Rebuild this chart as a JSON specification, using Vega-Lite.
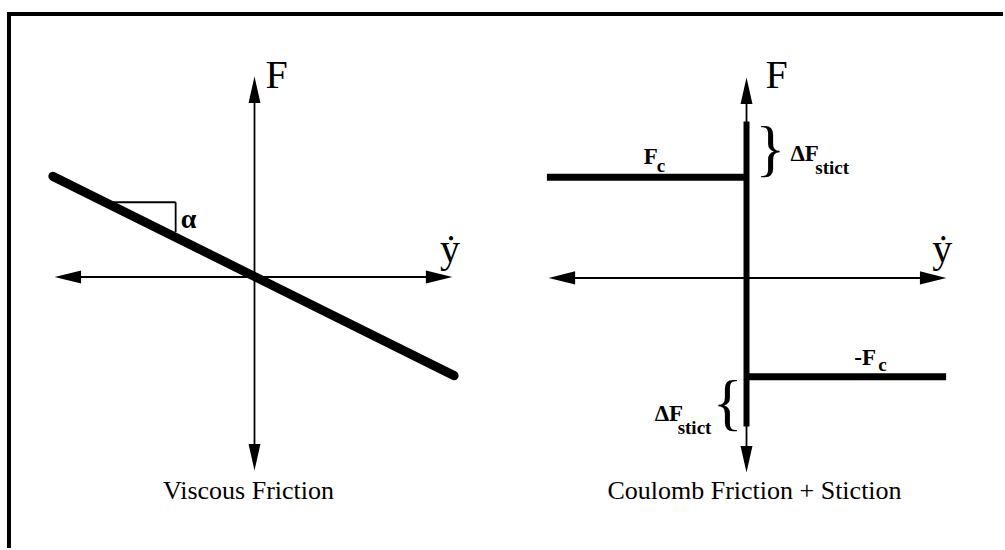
{
  "$schema": "https://vega.github.io/schema/vega-lite/v6.json",
  "width": 1005,
  "height": 550,
  "autosize": {"type": "fit", "contains": "padding"},
  "padding": 0,
  "background": "white",
  "config": {"view": {"stroke": null}, "text": {"font": "Liberation Serif", "color": "black"}},
  "datasets": {
    "segments": [
      {"role": "frame", "x": 7, "y": 14, "x2": 1005, "y2": 14},
      {"role": "frame", "x": 9, "y": 12, "x2": 9, "y2": 550},
      {"role": "axis", "x": 255, "y": 85, "x2": 255, "y2": 465},
      {"role": "axis", "x": 62, "y": 278, "x2": 446, "y2": 278},
      {"role": "axis", "x": 748, "y": 85, "x2": 748, "y2": 467},
      {"role": "axis", "x": 557, "y": 279, "x2": 941, "y2": 279},
      {"role": "guide", "x": 113, "y": 203, "x2": 176, "y2": 203},
      {"role": "guide", "x": 176, "y": 203, "x2": 176, "y2": 233},
      {"role": "slope", "x": 53, "y": 177, "x2": 455, "y2": 377},
      {"role": "stiction", "x": 748, "y": 122, "x2": 748, "y2": 428},
      {"role": "coulomb", "x": 548, "y": 178, "x2": 748, "y2": 178},
      {"role": "coulomb", "x": 748, "y": 378, "x2": 948, "y2": 378}
    ],
    "arrows": [
      {"x": 255, "y": 90, "dir": "up"},
      {"x": 255, "y": 459, "dir": "down"},
      {"x": 68, "y": 278, "dir": "left"},
      {"x": 440, "y": 278, "dir": "right"},
      {"x": 748, "y": 91, "dir": "up"},
      {"x": 748, "y": 461, "dir": "down"},
      {"x": 563, "y": 279, "dir": "left"},
      {"x": 935, "y": 279, "dir": "right"}
    ],
    "labels": [
      {"role": "axisname", "x": 266, "y": 88, "text": "F"},
      {"role": "axisname", "x": 767, "y": 88, "text": "F"},
      {"role": "axisname", "x": 441, "y": 263, "text": "ẏ"},
      {"role": "axisname", "x": 934, "y": 263, "text": "ẏ"},
      {"role": "caption", "x": 249, "y": 501, "text": "Viscous Friction"},
      {"role": "caption", "x": 756, "y": 501, "text": "Coulomb Friction + Stiction"},
      {"role": "alpha", "x": 181, "y": 229, "text": "α"},
      {"role": "symbol", "x": 645, "y": 165, "text": "F"},
      {"role": "symbol", "x": 856, "y": 366, "text": "-F"},
      {"role": "symbol", "x": 792, "y": 162, "text": "ΔF"},
      {"role": "symbol", "x": 656, "y": 423, "text": "ΔF"},
      {"role": "sub", "x": 658, "y": 173, "text": "c"},
      {"role": "sub", "x": 880, "y": 372, "text": "c"},
      {"role": "sub", "x": 817, "y": 175, "text": "stict"},
      {"role": "sub", "x": 679, "y": 436, "text": "stict"},
      {"role": "brace", "x": 772, "y": 151, "text": "}"},
      {"role": "brace", "x": 729, "y": 405, "text": "{"}
    ]
  },
  "encoding": {
    "x": {"field": "x", "type": "quantitative", "scale": {"domain": [0, 1005], "nice": false, "zero": false}, "axis": null},
    "y": {"field": "y", "type": "quantitative", "scale": {"domain": [0, 550], "nice": false, "zero": false, "reverse": true}, "axis": null}
  },
  "layer": [
    {
      "data": {"name": "segments"},
      "transform": [{"filter": "datum.role === 'frame'"}],
      "mark": {"type": "rule", "strokeWidth": 4, "color": "black"},
      "encoding": {"x2": {"field": "x2"}, "y2": {"field": "y2"}}
    },
    {
      "data": {"name": "segments"},
      "transform": [{"filter": "datum.role === 'axis' || datum.role === 'guide'"}],
      "mark": {"type": "rule", "strokeWidth": 1.8, "color": "black"},
      "encoding": {"x2": {"field": "x2"}, "y2": {"field": "y2"}}
    },
    {
      "data": {"name": "segments"},
      "transform": [{"filter": "datum.role === 'slope'"}],
      "mark": {"type": "rule", "strokeWidth": 9, "strokeCap": "round", "color": "black"},
      "encoding": {"x2": {"field": "x2"}, "y2": {"field": "y2"}}
    },
    {
      "data": {"name": "segments"},
      "transform": [{"filter": "datum.role === 'stiction'"}],
      "mark": {"type": "rule", "strokeWidth": 6, "color": "black"},
      "encoding": {"x2": {"field": "x2"}, "y2": {"field": "y2"}}
    },
    {
      "data": {"name": "segments"},
      "transform": [{"filter": "datum.role === 'coulomb'"}],
      "mark": {"type": "rule", "strokeWidth": 7, "color": "black"},
      "encoding": {"x2": {"field": "x2"}, "y2": {"field": "y2"}}
    },
    {
      "data": {"name": "arrows"},
      "mark": {"type": "point", "filled": true, "color": "black", "opacity": 1, "size": 700, "strokeWidth": 0},
      "encoding": {
        "shape": {
          "field": "dir",
          "type": "nominal",
          "legend": null,
          "scale": {
            "domain": ["up", "down", "left", "right"],
            "range": ["M0,-1L0.45,1L-0.45,1Z", "M0,1L0.45,-1L-0.45,-1Z", "M-1,0L1,-0.5L1,0.5Z", "M1,0L-1,-0.5L-1,0.5Z"]
          }
        }
      }
    },
    {
      "data": {"name": "labels"},
      "transform": [{"filter": "datum.role === 'axisname'"}],
      "mark": {"type": "text", "fontSize": 40, "align": "left", "baseline": "alphabetic"},
      "encoding": {"text": {"field": "text"}}
    },
    {
      "data": {"name": "labels"},
      "transform": [{"filter": "datum.role === 'caption'"}],
      "mark": {"type": "text", "fontSize": 26, "align": "center", "baseline": "alphabetic"},
      "encoding": {"text": {"field": "text"}}
    },
    {
      "data": {"name": "labels"},
      "transform": [{"filter": "datum.role === 'alpha'"}],
      "mark": {"type": "text", "fontSize": 28, "fontWeight": "bold", "align": "left", "baseline": "alphabetic"},
      "encoding": {"text": {"field": "text"}}
    },
    {
      "data": {"name": "labels"},
      "transform": [{"filter": "datum.role === 'symbol'"}],
      "mark": {"type": "text", "fontSize": 23, "fontWeight": "bold", "align": "left", "baseline": "alphabetic"},
      "encoding": {"text": {"field": "text"}}
    },
    {
      "data": {"name": "labels"},
      "transform": [{"filter": "datum.role === 'sub'"}],
      "mark": {"type": "text", "fontSize": 19, "fontWeight": "bold", "align": "left", "baseline": "alphabetic"},
      "encoding": {"text": {"field": "text"}}
    },
    {
      "data": {"name": "labels"},
      "transform": [{"filter": "datum.role === 'brace'"}],
      "mark": {"type": "text", "fontSize": 62, "align": "center", "baseline": "middle"},
      "encoding": {"text": {"field": "text"}}
    }
  ]
}
